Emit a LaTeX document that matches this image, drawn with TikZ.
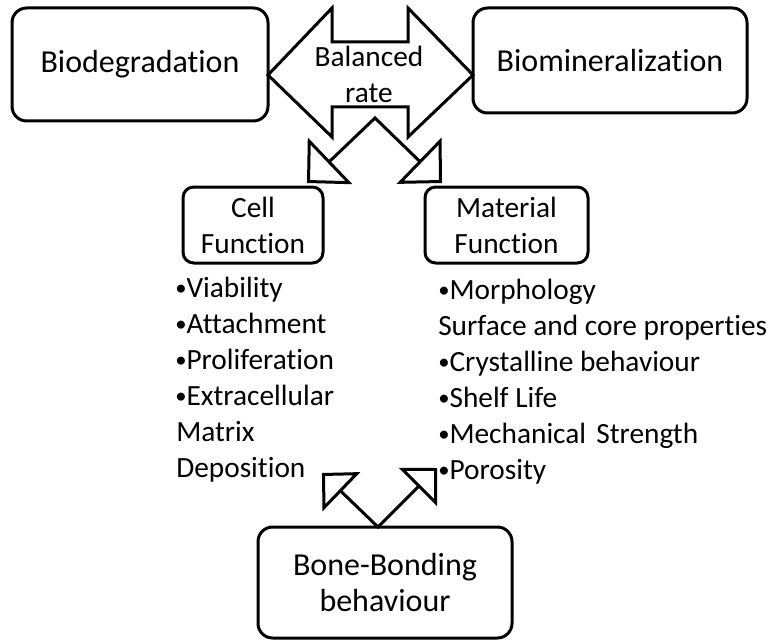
\documentclass[tikz,border=0pt]{standalone}
\usepackage{fontspec}
\setmainfont{Carlito}[Ligatures={NoCommon}]
\usetikzlibrary{arrows.meta}
\newcommand{\smallbul}{{\fontsize{17}{17}\selectfont\raisebox{1.2pt}{•}}}
\begin{document}
\begin{tikzpicture}[x=0.75pt,y=-0.75pt,
  lw/.style={line width=2.25pt},
  bigbox/.style={draw, lw, rounded corners=11pt, inner sep=0pt, align=center, font=\fontsize{24}{27}\selectfont},
  smallbox/.style={draw, lw, rounded corners=8pt, inner sep=0pt, align=center, font=\fontsize{22}{27}\selectfont},
  listitem/.style={anchor=base west, inner sep=0pt, font=\fontsize{22}{27}\selectfont},
  bigtips/.style={lw, line join=miter, {Triangle[open, length=24pt, width=48pt]}-{Triangle[open, length=24pt, width=48pt]}},
  smalltips/.style={lw, line join=miter, {Triangle[open, length=20.25pt, width=40.5pt]}-{Triangle[open, length=20.25pt, width=40.5pt]}}
]
\useasboundingbox (0,0) rectangle (779,642);
\node[bigbox, minimum width=192pt, minimum height=84.75pt] (biodeg) at (140,64.5) {Biodegradation};
\node[bigbox, minimum width=205.5pt, minimum height=78.75pt] (biomin) at (610,60.5) {Biomineralization};
% double arrow
\draw[lw, line join=miter] (268,75) -- (332,8) -- (332,42) -- (408,42) -- (408,8) -- (473,75) -- (408,137) -- (408,107) -- (332,107) -- (332,137) -- cycle;
\node[align=center, inner sep=0pt, font=\fontsize{22}{27}\selectfont] (rate) at (369,74) {Balanced\\rate};
\node[smallbox, minimum width=105pt, minimum height=57pt] (cell) at (253,225) {Cell\\Function};
\node[smallbox, minimum width=122.25pt, minimum height=57pt] (mat) at (506.5,225) {Material\\Function};
\node[bigbox, minimum width=190.5pt, minimum height=83.25pt] (bone) at (385,582.5) {Bone-Bonding\\behaviour};
% top connectors
\coordinate (topapex) at (375,118);
\coordinate (celltip) at (307,183);
\coordinate (mattip) at (442,183);
\draw[bigtips] (celltip) -- (topapex) -- (mattip);
% bottom connectors
\coordinate (botapex) at (378,527);
\coordinate (lefttip) at (322,473);
\coordinate (righttip) at (437,468);
\draw[smalltips] (lefttip) -- (botapex) -- (righttip);
% lists
\node[listitem] (l1) at (175,297) {\smallbul Viability};
\node[listitem] (l2) at (175,333) {\smallbul Attachment};
\node[listitem] (l3) at (175,369) {\smallbul Proliferation};
\node[listitem] (l4) at (175,405) {\smallbul Extracellular};
\node[listitem] (l5) at (176,441) {Matrix};
\node[listitem] (l6) at (176,477) {Deposition};
\node[listitem] (r1) at (438,299) {\smallbul Morphology};
\node[listitem] (r2) at (438,335) {Surface and core properties};
\node[listitem] (r3) at (438,371) {\smallbul Crystalline behaviour};
\node[listitem] (r4) at (438,407) {\smallbul Shelf Life};
\node[listitem] (r5) at (438,443) {\smallbul Mechanical\hspace{0.35em}Strength};
\node[listitem] (r6) at (438,479) {\smallbul Porosity};
\end{tikzpicture}
\end{document}
